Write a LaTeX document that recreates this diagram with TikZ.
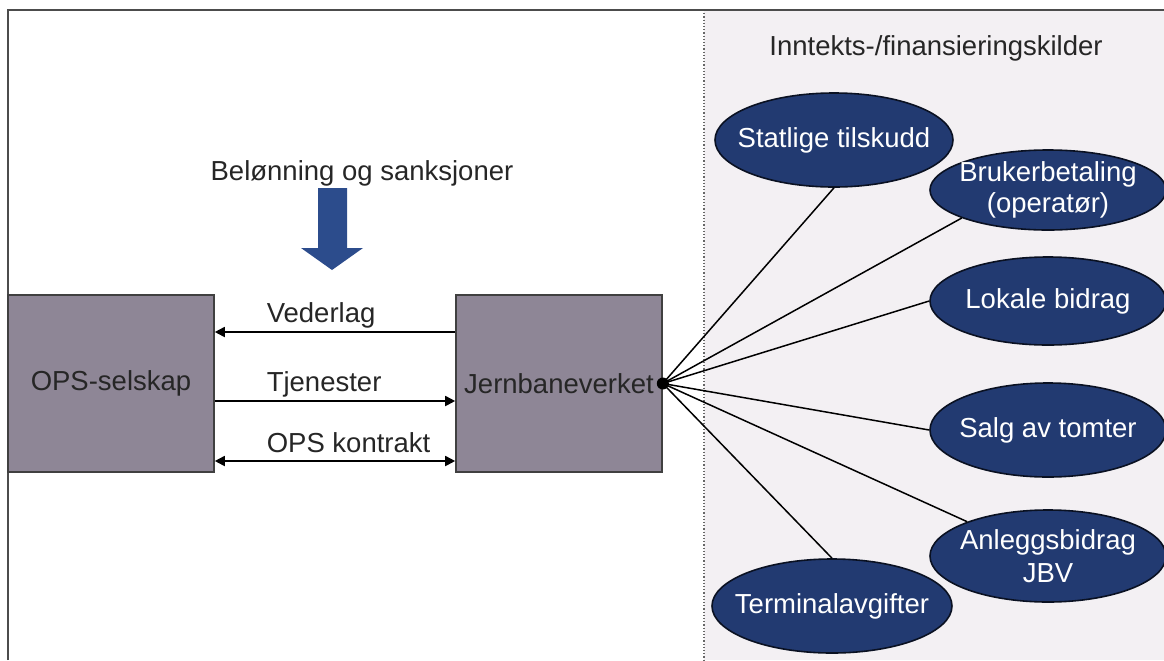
\documentclass[tikz,border=0pt]{standalone}
\usepackage{fontspec}
\setmainfont{Liberation Sans}
\usetikzlibrary{shapes.geometric, arrows.meta}
\definecolor{boxgrey}{RGB}{142, 134, 150}
\definecolor{navy}{RGB}{34, 58, 113}
\definecolor{panel}{RGB}{243, 240, 243}
\definecolor{arrowblue}{RGB}{44, 76, 140}

\begin{document}
\begin{tikzpicture}[x=0.5pt, y=-0.5pt, thick,
  font=\fontsize{13.75}{16}\selectfont, text=black!85,
  partybox/.style={draw=black!75, fill=boxgrey, inner sep=0pt,
    minimum width=103pt, minimum height=88.5pt},
  flowlabel/.style={inner sep=0pt, anchor=base west},
  flow/.style={line width=0.9pt, -{Triangle[length=5pt, width=5pt]}},
  twoway/.style={line width=0.9pt,
    {Triangle[length=5pt, width=5pt]}-{Triangle[length=5pt, width=5pt]}},
  source/.style={ellipse, draw=black!70!navy, fill=navy, inner sep=0pt,
    minimum width=118pt, minimum height=46pt},
  sourcetext/.style={text=white, align=center, inner sep=0pt},
  spoke/.style={line width=0.75pt},
  hubdot/.style={circle, fill=black, inner sep=0pt, minimum size=6pt}]
  \useasboundingbox (0,0) rectangle (1164,660);

  % panel for the sources
  \fill[panel] (704,10) rectangle (1164,660);
  \draw[black!60, densely dotted, line width=0.6pt] (704,10) -- (704,660);
  \draw[black!70, line width=1pt] (8,660) -- (8,10) -- (1164,10);

  \node[anchor=base] (title) at (936,55) {Inntekts-/finansieringskilder};

  % the two parties
  \node[partybox] (ops) at (111,383.5) {OPS-selskap};
  \node[partybox] (jbv) at (559,383.5) {Jernbaneverket};

  \draw[flow] ([yshift=25.75pt]jbv.west) -- ([yshift=25.75pt]ops.east);
  \draw[flow] ([yshift=-8.75pt]ops.east) -- ([yshift=-8.75pt]jbv.west);
  \draw[twoway] ([yshift=-38.75pt]ops.east) -- ([yshift=-38.75pt]jbv.west);

  \node[flowlabel] (vederlag) at (266,322) {Vederlag};
  \node[flowlabel] (tjenester) at (266,391) {Tjenester};
  \node[flowlabel] (kontrakt) at (266,452) {OPS kontrakt};

  % incentives
  \node[anchor=base] (incentive) at (362,180) {Belønning og sanksjoner};
  \fill[arrowblue] (318,188) -- (347,188) -- (347,248) -- (363,248)
    -- (332,270) -- (301,248) -- (318,248) -- cycle;

  % sources
  \node[source, minimum width=119pt, minimum height=47pt,
    label={[sourcetext]center:Statlige tilskudd}] (statlige) at (834,140) {};
  \node[source, minimum height=40pt,
    label={[sourcetext, font=\fontsize{13.75}{15.5}\selectfont]center:{Brukerbetaling\\(operatør)}}]
    (bruker) at (1048,190) {};
  \node[source, minimum height=44pt,
    label={[sourcetext]center:Lokale bidrag}] (lokale) at (1048,301) {};
  \node[source, minimum height=47pt,
    label={[sourcetext]center:Salg av tomter}] (salg) at (1048,430) {};
  \node[source,
    label={[sourcetext, font=\fontsize{13.75}{16.5}\selectfont]center:{Anleggsbidrag\\JBV}}]
    (anlegg) at (1048,556) {};
  \node[source, minimum width=120pt, minimum height=47pt,
    label={[sourcetext]center:Terminalavgifter}] (terminal) at (832,606) {};

  \node[hubdot] (hub) at (jbv.east) {};
  \draw[spoke] (hub.center) -- (statlige.south);
  \draw[spoke] (hub.center) -- (bruker.198);
  \draw[spoke] (hub.center) -- (lokale.west);
  \draw[spoke] (hub.center) -- (salg.west);
  \draw[spoke] (hub.center) -- (anlegg.157);
  \draw[spoke] (hub.center) -- (terminal.north);

\end{tikzpicture}
\end{document}
